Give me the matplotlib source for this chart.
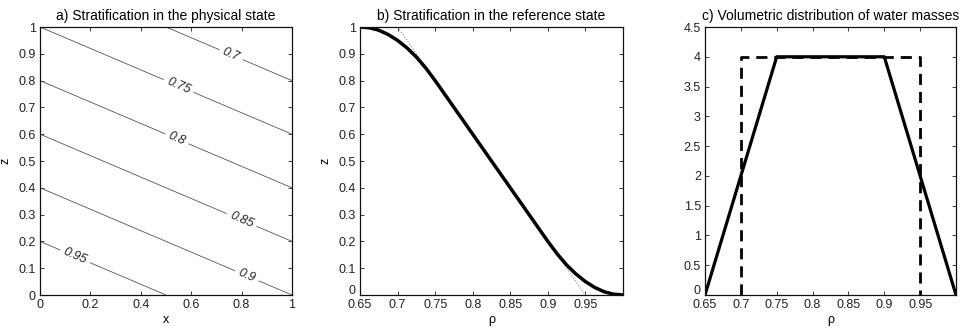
import numpy as np
import matplotlib
matplotlib.use("Agg")
import matplotlib.pyplot as plt
import matplotlib.transforms as mtransforms

plt.rcParams['font.family'] = ['Liberation Sans', 'DejaVu Sans']

# ---- Data ----
# Panel a: density field at the corners of the unit square (linear field)
grid_x = [0.0, 1.0]
grid_z = [0.0, 1.0]
rho_grid = [[1.00, 0.90],   # z = 0 : x = 0, x = 1
            [0.75, 0.65]]   # z = 1 : x = 0, x = 1
contour_levels = [0.7, 0.75, 0.8, 0.85, 0.9, 0.95]

# Panel b: reference-state stratification
ref_rho = [0.65, 0.6625, 0.675, 0.6875, 0.70, 0.7125, 0.725, 0.7375, 0.75,
           0.80, 0.85, 0.90, 0.9125, 0.925, 0.9375, 0.95, 0.9625, 0.975, 0.9875, 1.00]
ref_z = [1.000, 0.997, 0.988, 0.972, 0.950, 0.922, 0.888, 0.847, 0.800,
         0.600, 0.400, 0.200, 0.153, 0.112, 0.078, 0.050, 0.028, 0.012, 0.003, 0.000]
lin_rho = [0.70, 0.95]
lin_z = [1.0, 0.0]

# Panel c: volumetric distributions
trap_rho = [0.65, 0.75, 0.90, 1.00]
trap_v = [0.0, 4.0, 4.0, 0.0]
rect_rho = [0.70, 0.70, 0.95, 0.95]
rect_v = [0.0, 4.0, 4.0, 0.0]

rho_ticks = [0.65, 0.7, 0.75, 0.8, 0.85, 0.9, 0.95]
rho_ticklabels = ['0.65', '0.7', '0.75', '0.8', '0.85', '0.9', '0.95']
unit_ticks = [0, 0.1, 0.2, 0.3, 0.4, 0.5, 0.6, 0.7, 0.8, 0.9, 1.0]
unit_ticklabels = ['0', '0.1', '0.2', '0.3', '0.4', '0.5', '0.6', '0.7', '0.8', '0.9', '1']
x_ticks = [0, 0.2, 0.4, 0.6, 0.8, 1.0]
x_ticklabels = ['0', '0.2', '0.4', '0.6', '0.8', '1']
v_ticks = [0, 0.5, 1, 1.5, 2, 2.5, 3, 3.5, 4, 4.5]
v_ticklabels = ['0', '0.5', '1', '1.5', '2', '2.5', '3', '3.5', '4', '4.5']

FS = 9
TFS = 10
W, H = 964, 331
fig = plt.figure(figsize=(W / 100, H / 100), dpi=100)

def ax_at(l, r, t, b):
    return fig.add_axes([l / W, 1 - b / H, (r - l) / W, (b - t) / H])

def style(ax):
    ax.tick_params(direction='in', length=3, width=0.6, top=True, right=True,
                   labelsize=FS, pad=3, colors='#222222')
    for s in ax.spines.values():
        s.set_linewidth(0.9)
        s.set_color('#111111')

def lift_zero_label(ax):
    # nudge the bottom y tick label up so it clears the first x tick label
    off = mtransforms.ScaledTranslation(0, 5 / 100, fig.dpi_scale_trans)
    lab = ax.get_yticklabels()[0]
    lab.set_transform(lab.get_transform() + off)

# Panel a
axa = ax_at(40, 292, 27, 295)
X, Z = np.meshgrid(grid_x, grid_z)
cs = axa.contour(X, Z, np.array(rho_grid), levels=contour_levels,
                 colors='#555555', linewidths=0.6)
manual = [(0.76, 0.90), (0.55, 0.78), (0.54, 0.575), (0.80, 0.28), (0.82, 0.07), (0.14, 0.145)]
axa.clabel(cs, fmt=lambda v: f'{v:g}', fontsize=FS, manual=manual, inline=True,
           inline_spacing=4)
for t in cs.labelTexts:
    t.set_style('italic')
    t.set_color('#222222')
axa.set_xlim(0, 1)
axa.set_ylim(0, 1)
axa.set_xticks(x_ticks)
axa.set_xticklabels(x_ticklabels)
axa.set_yticks(unit_ticks)
axa.set_yticklabels(unit_ticklabels)
axa.set_xlabel('x', fontsize=FS, labelpad=2)
axa.set_ylabel('z', fontsize=FS, labelpad=5)
axa.set_title('a) Stratification in the physical state', fontsize=TFS, pad=5)
style(axa)

# Panel b
axb = ax_at(360, 623, 27, 295)
axb.plot(lin_rho, lin_z, color='#888888', linestyle=':', linewidth=0.8)
axb.plot(ref_rho, ref_z, color='black', linewidth=2.5, solid_capstyle='butt')
axb.set_xlim(0.65, 1.0)
axb.set_ylim(0, 1)
axb.set_xticks(rho_ticks)
axb.set_xticklabels(rho_ticklabels)
axb.set_yticks(unit_ticks)
axb.set_yticklabels(unit_ticklabels)
axb.set_xlabel('ρ', fontsize=FS, labelpad=2)
axb.set_ylabel('z', fontsize=FS, labelpad=5)
axb.set_title('b) Stratification in the reference state', fontsize=TFS, pad=5)
style(axb)
lift_zero_label(axb)

# Panel c
axc = ax_at(705, 956, 27, 295)
axc.plot(rect_rho, rect_v, color='black', linestyle=(0, (4, 2.5)), linewidth=2.0)
axc.plot(trap_rho, trap_v, color='black', linewidth=2.3)
axc.set_xlim(0.65, 1.0)
axc.set_ylim(0, 4.5)
axc.set_xticks(rho_ticks)
axc.set_xticklabels(rho_ticklabels)
axc.set_yticks(v_ticks)
axc.set_yticklabels(v_ticklabels)
axc.set_xlabel('ρ', fontsize=FS, labelpad=2)
axc.set_title('c) Volumetric distribution of water masses', fontsize=TFS, pad=5)
style(axc)
lift_zero_label(axc)

fig.savefig('out.png', dpi=100)
